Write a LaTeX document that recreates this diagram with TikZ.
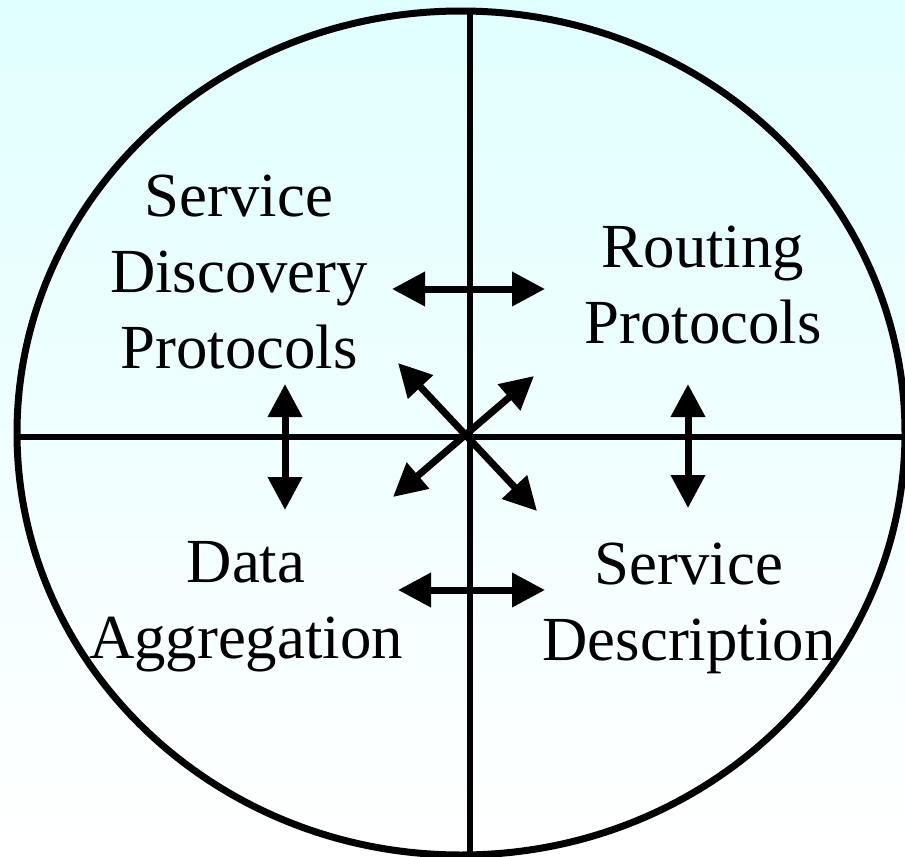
\documentclass[tikz,border=0pt]{standalone}
\usepackage{fontspec}
\setmainfont{Liberation Serif}
\usetikzlibrary{arrows.meta}
\definecolor{bgtop}{RGB}{224,255,255}
\tikzset{
  label/.style={align=center, inner sep=0pt, font=\fontsize{63}{76}\selectfont},
  rim/.style={line width=7bp},
  divider/.style={line width=5.5bp},
  link/.style={line width=7bp, {Triangle[length=33bp,width=33bp]}-{Triangle[length=33bp,width=33bp]}}
}
\begin{document}
\begin{tikzpicture}[x=1bp,y=-1bp]
\useasboundingbox (0,0) rectangle (905,857);
\shade[top color=bgtop, bottom color=white] (0,0) rectangle (905,857);
\draw[rim] (461,433) ellipse [x radius=444, y radius=422];
\coordinate (hl) at (19,437);
\coordinate (hr) at (906,437);
\coordinate (vt) at (470,11);
\coordinate (vb) at (470,855);
\draw[divider] (hl) -- (hr);
\draw[divider] (vt) -- (vb);
% labels (anchor = baseline of last line)
\node[label, anchor=base] (sdp) at (239,368) {Service\\Discovery\\Protocols};
\node[label, anchor=base] (rp) at (703,343) {Routing\\Protocols};
\node[label, anchor=base] (da) at (246,658) {Data\\Aggregation};
\node[label, anchor=base] (sd) at (689,660) {Service\\Description};
% arrow ends
\coordinate (a1) at (392,289); \coordinate (a2) at (545,289);
\coordinate (b1) at (398,590); \coordinate (b2) at (545,590);
\coordinate (c1) at (285,384); \coordinate (c2) at (285,510);
\coordinate (d1) at (688,384); \coordinate (d2) at (688,508);
\coordinate (e1) at (398,363); \coordinate (e2) at (537,511);
\coordinate (f1) at (534,376); \coordinate (f2) at (393,497);
\draw[link] (a1) -- (a2);
\draw[link] (b1) -- (b2);
\draw[link] (c1) -- (c2);
\draw[link] (d1) -- (d2);
\draw[link] (e1) -- (e2);
\draw[link] (f1) -- (f2);
\end{tikzpicture}
\end{document}
